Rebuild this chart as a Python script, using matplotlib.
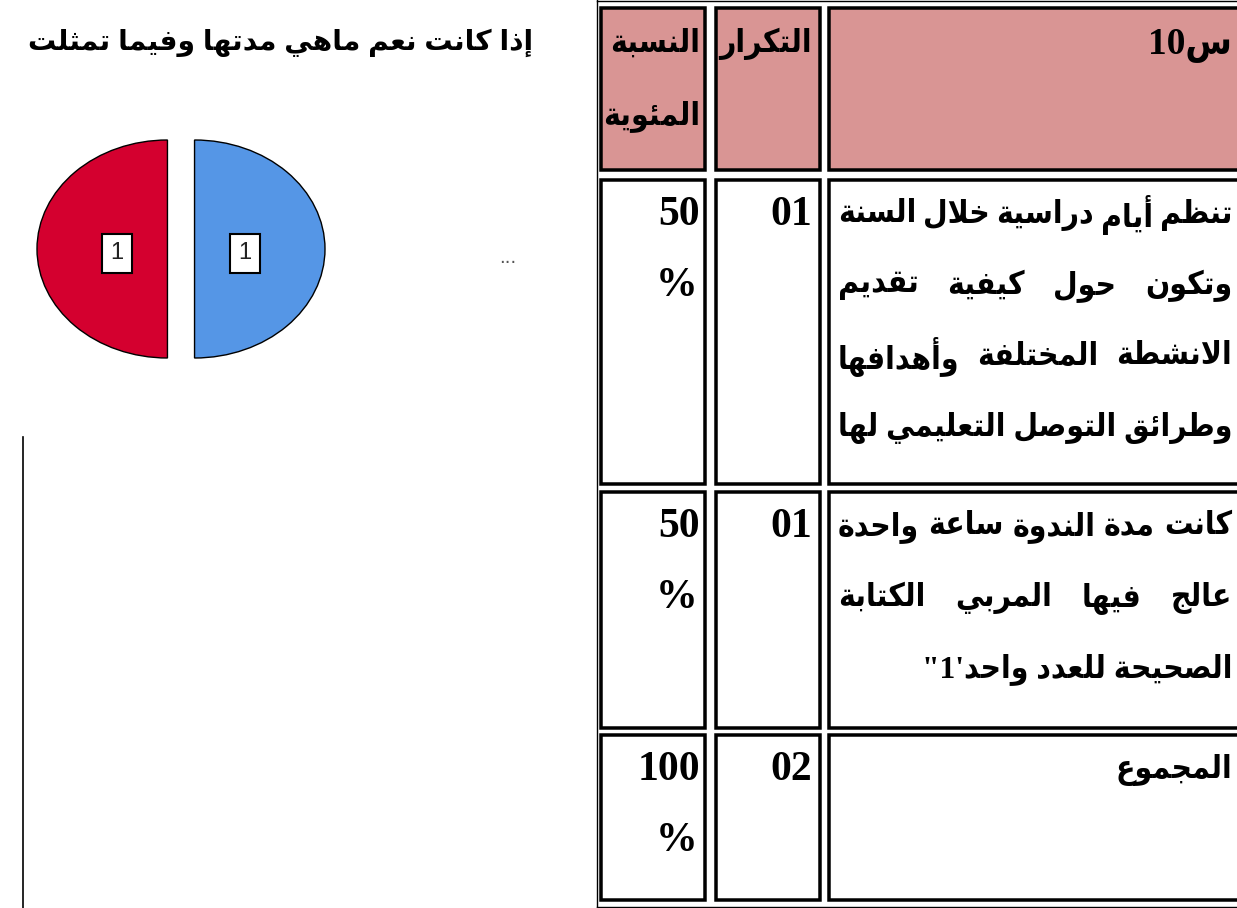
import re
import matplotlib
matplotlib.use("Agg")
import matplotlib.pyplot as plt
from matplotlib.patches import Rectangle
from matplotlib.lines import Line2D

W, H = 1237, 908

# ---- data ----
pie_counts = [1, 1]
pie_colors = ["#D4002F", "#5596E6"]
chart_title = "إذا كانت نعم ماهي مدتها وفيما تمثلت"

header_question = "س10"
header_count = "التكرار"
header_percent = ["النسبة", "المئوية"]
row_answers = [
    ["تنظم أيام دراسية خلال السنة", "وتكون حول كيفية تقديم",
     "الانشطة المختلفة وأهدافها", "وطرائق التوصل التعليمي لها"],
    ["كانت مدة الندوة ساعة واحدة", "عالج فيها المربي الكتابة",
     "الصحيحة للعدد واحد'1\""],
    ["المجموع"],
]
row_counts = ["01", "01", "02"]
row_percents = [50, 50, 100]

# ---- minimal arabic shaping (matplotlib has no bidi / joining) ----
DUAL = "ئبتثجحخسشصضطظعغفقكلمنهي"
DUAL_START = [0xFE89, 0xFE8F, 0xFE95, 0xFE99, 0xFE9D, 0xFEA1, 0xFEA5, 0xFEB1,
              0xFEB5, 0xFEB9, 0xFEBD, 0xFEC1, 0xFEC5, 0xFEC9, 0xFECD, 0xFED1,
              0xFED5, 0xFED9, 0xFEDD, 0xFEE1, 0xFEE5, 0xFEE9, 0xFEF1]
RIGHT = "آأؤإاةدذرزوى"
RIGHT_START = [0xFE81, 0xFE83, 0xFE85, 0xFE87, 0xFE8D, 0xFE93, 0xFEA9, 0xFEAB,
               0xFEAD, 0xFEAF, 0xFEED, 0xFEEF]
LAM_ALEF = {"آ": 0xFEF5, "أ": 0xFEF7, "إ": 0xFEF9, "ا": 0xFEFB}
START = dict(zip(DUAL, DUAL_START))
START.update(zip(RIGHT, RIGHT_START))


def shape(word):
    units = []
    i = 0
    while i < len(word):
        if word[i] == "ل" and i + 1 < len(word) and word[i + 1] in LAM_ALEF:
            units.append(("LA", word[i + 1]))
            i += 2
        else:
            units.append(("C", word[i]))
            i += 1
    out = []
    for k, (kind, c) in enumerate(units):
        prev = units[k - 1] if k > 0 else None
        nxt = units[k + 1] if k + 1 < len(units) else None
        jp = prev is not None and prev[0] == "C" and prev[1] in DUAL
        if kind == "LA":
            out.append(chr(LAM_ALEF[c] + (1 if jp else 0)))
        elif c in DUAL:
            jn = nxt is not None and (nxt[0] == "LA" or nxt[1] in START)
            form = {(False, False): 0, (True, False): 1,
                    (False, True): 2, (True, True): 3}[(jp, jn)]
            out.append(chr(START[c] + form))
        elif c in RIGHT:
            out.append(chr(START[c] + (1 if jp else 0)))
        else:
            out.append(c)
    return "".join(out)


def to_visual(s):
    runs = re.findall(r"[0-9]+|[^0-9]+", shape(s))
    return "".join(r if r.isdigit() else r[::-1] for r in reversed(runs))


# ---- figure ----
fig = plt.figure(figsize=(W / 100, H / 100), dpi=100)
ax = fig.add_axes([0, 0, 1, 1])
ax.set_xlim(0, W)
ax.set_ylim(H, 0)
ax.axis("off")
renderer = fig.canvas.get_renderer()

ARABIC = dict(family=["Liberation Serif", "DejaVu Sans"], fontweight="bold",
              fontstretch="condensed")
NUMS = dict(family=["Liberation Serif"], fontweight="bold")
TITLE = dict(family=["Liberation Sans", "DejaVu Sans"], fontweight="bold")


def text_width(s, size, props):
    t = ax.text(0, 0, s, fontsize=size, **props)
    w = t.get_window_extent(renderer).width
    t.remove()
    return w


def natural_width(line, size, props):
    words = [to_visual(w) for w in line.split()]
    return sum(text_width(w, size, props) for w in words) + \
        (len(words) - 1) * 0.22 * size * 100 / 72


def draw_rtl(line, left, right, y, justify, size, props):
    words = [to_visual(w) for w in line.split()]
    if not justify or len(words) < 2:
        ax.text(right, y, " ".join(reversed(words)), ha="right", va="center",
                fontsize=size, **props)
        return
    widths = [text_width(w, size, props) for w in words]
    gap = (right - left - sum(widths)) / (len(words) - 1)
    x = right
    for w, wd in zip(words, widths):
        ax.text(x, y, w, ha="right", va="center", fontsize=size, **props)
        x -= wd + gap


# pie (exploded halves, stretched horizontally)
e = 13.5 / 130
ax_pie = fig.add_axes([37 / W, 1 - 358 / H, 288 / W, 218 / H])
total = sum(pie_counts)
wedges, texts, autotexts = ax_pie.pie(
    pie_counts, colors=pie_colors, startangle=90, counterclock=True,
    explode=[e] * len(pie_counts),
    autopct=lambda p: f"{p * total / 100:.0f}", pctdistance=0.385,
    wedgeprops=dict(edgecolor="black", linewidth=1.0))
for t in autotexts:
    t.set_fontsize(17)
    t.set_family(["Liberation Sans", "DejaVu Sans"])
    t.set_color("#222222")
    t.set_y(t.get_position()[1] - 0.04)
    t.set_bbox(dict(boxstyle="square,pad=0.35", fc="white", ec="black", lw=1.5))
ax_pie.set_aspect("auto")
ax_pie.set_xlim(-1 - e, 1 + e)
ax_pie.set_ylim(-1, 1)

# title above the pie
tw = text_width(to_visual(chart_title), 20, TITLE)
ax.text(533, 43, to_visual(chart_title), ha="right", va="center",
        fontsize=20 * 506 / tw, **TITLE)
ax.text(508, 258, "...", ha="center", va="center", fontsize=13, color="#555555")

# stray vertical rule
fig.add_artist(Line2D([23 / W, 23 / W], [0, 1 - 437 / H], color="black", lw=1.2))

# ---- table ----
cols = [(599, 707), (714, 822), (827, 1245)]
rows = [(6, 172), (178, 486), (490, 730), (733, 902)]
ax.plot([597, 597], [0, H], color="black", lw=1.0)
ax.plot([597, W], [906.5, 906.5], color="black", lw=1.0)
ax.plot([597, W], [1, 1], color="black", lw=1.0)
bw = 3.5
for r, (y0, y1) in enumerate(rows):
    for x0, x1 in cols:
        ax.add_patch(Rectangle((x0 + bw / 2, y0 + bw / 2), x1 - x0 - bw, y1 - y0 - bw,
                               facecolor="#D99594" if r == 0 else "white",
                               edgecolor="black", lw=bw * 0.72))

text_left, text_right = 838, 1232
justified = [ln for lines in row_answers for ln in lines[:-1]]
fs = min(20 * (text_right - text_left) / natural_width(ln, 20, ARABIC) for ln in justified)
fs_num = 30
step = 71

# header
hy = rows[0][0] + 38
draw_rtl(header_question, 0, text_right, hy, False, fs_num * 0.9, ARABIC)
draw_rtl(header_count, 0, 812, hy, False, fs, ARABIC)
for k, word in enumerate(header_percent):
    draw_rtl(word, 0, 700, hy + k * 72, False, fs, ARABIC)

# body rows
for r, lines in enumerate(row_answers):
    y0 = rows[r + 1][0] + 37
    for k, line in enumerate(lines):
        draw_rtl(line, text_left, text_right, y0 + k * step,
                 k < len(lines) - 1, fs, ARABIC)
    ax.text(812, y0, row_counts[r], ha="right", va="center", fontsize=fs_num, **NUMS)
    ax.text(700, y0, f"{row_percents[r]}", ha="right", va="center", fontsize=fs_num, **NUMS)
    ax.text(697, y0 + step, "%", ha="right", va="center", fontsize=fs_num, **NUMS)

fig.savefig("out.png", dpi=100, facecolor="white")
